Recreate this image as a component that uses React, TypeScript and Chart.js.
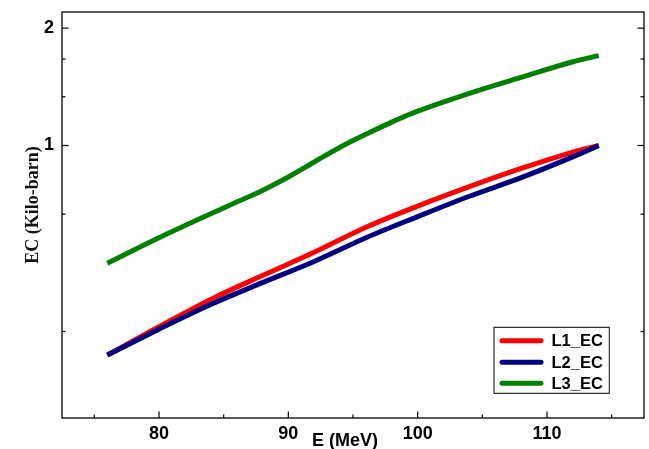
import { useEffect, useRef } from "react";
import { Chart, registerables } from "chart.js";

Chart.register(...registerables);

// ---- data ----
const E_L12 = [76, 80, 84, 88, 92, 96, 100, 104, 108, 112, 114];
const L1_EC = [0.29, 0.343, 0.403, 0.464, 0.532, 0.617, 0.699, 0.784, 0.873, 0.962, 1.0];
const L2_EC = [0.29, 0.338, 0.391, 0.445, 0.504, 0.58, 0.657, 0.741, 0.827, 0.935, 1.0];
const E_L3 = [76, 80, 84, 86, 88, 90, 92, 94, 96, 98, 100, 104, 108, 112, 114];
const L3_EC = [0.499, 0.58, 0.668, 0.716, 0.767, 0.83, 0.907, 0.99, 1.069, 1.148, 1.225, 1.361, 1.496, 1.64, 1.7];

const SERIES_LABELS = ["L1_EC", "L2_EC", "L3_EC"];
const SERIES_COLORS = ["#ff0000", "#000080", "#008000"];

const X_MAJOR = [80, 90, 100, 110];
const X_MINOR = [75, 85, 95, 105, 115];
const Y_MAJOR = [1, 2];
const Y_MINOR = [1 / 3, 2 / 3, 4 / 3, 5 / 3];

const X_TITLE = "E (MeV)";
const Y_TITLE = "EC (Kilo-barn)";

const SANS = '"Liberation Sans", Arial, sans-serif';
const SERIF = '"Liberation Serif", "Times New Roman", serif';

const framePlugin = {
  id: "frame",
  afterDraw(chart: any) {
    const { ctx, chartArea: a, scales } = chart;
    const x = scales.x;
    const y = scales.y;
    ctx.save();
    ctx.strokeStyle = "#000";
    ctx.lineWidth = 1.3;
    ctx.strokeRect(a.left, a.top, a.right - a.left, a.bottom - a.top);

    const seg = (x1: number, y1: number, x2: number, y2: number) => {
      ctx.beginPath();
      ctx.moveTo(x1, y1);
      ctx.lineTo(x2, y2);
      ctx.stroke();
    };
    ctx.lineWidth = 1.2;
    X_MAJOR.forEach((v) => {
      const p = x.getPixelForValue(v);
      seg(p, a.bottom, p, a.bottom - 6.5);
    });
    X_MINOR.forEach((v) => {
      const p = x.getPixelForValue(v);
      if (p > a.left && p < a.right) seg(p, a.bottom, p, a.bottom - 3.5);
    });
    Y_MAJOR.forEach((v) => {
      const p = y.getPixelForValue(v);
      seg(a.left, p, a.left + 6.5, p);
      seg(a.right, p, a.right - 6.5, p);
    });
    Y_MINOR.forEach((v) => {
      const p = y.getPixelForValue(v);
      seg(a.left, p, a.left + 3.5, p);
      seg(a.right, p, a.right - 3.5, p);
    });

    // axis titles
    ctx.fillStyle = "#000";
    ctx.font = `bold 18px ${SANS}`;
    ctx.textAlign = "center";
    ctx.textBaseline = "alphabetic";
    ctx.fillText(X_TITLE, 345, 446);

    ctx.save();
    ctx.translate(37.5, 205);
    ctx.rotate(-Math.PI / 2);
    ctx.font = `bold 18px ${SERIF}`;
    ctx.fillStyle = "#111";
    ctx.fillText(Y_TITLE, 0, 0);
    ctx.restore();

    // legend box
    const bx = 494, by = 327.3, bw = 115.3, bh = 66;
    ctx.fillStyle = "#fff";
    ctx.fillRect(bx, by, bw, bh);
    ctx.lineWidth = 1;
    ctx.strokeStyle = "#000";
    ctx.strokeRect(bx, by, bw, bh);
    const rows = [340.7, 362.3, 383.3];
    chart.data.datasets.forEach((ds: any, i: number) => {
      const ry = rows[i];
      ctx.strokeStyle = ds.borderColor;
      ctx.lineWidth = 5;
      ctx.lineCap = "round";
      seg(502, ry, 541, ry);
      ctx.fillStyle = "#000";
      ctx.font = `bold 16.5px ${SANS}`;
      ctx.textAlign = "left";
      ctx.textBaseline = "middle";
      ctx.fillText(ds.label, 551.5, ry + 0.8);
    });
    ctx.restore();
  },
};

export default function App() {
  const ref = useRef<HTMLCanvasElement | null>(null);

  useEffect(() => {
    if (!ref.current) return;
    const mk = (xs: number[], ys: number[]) => xs.map((x, i) => ({ x, y: ys[i] }));
    const common = {
      borderWidth: 5,
      pointRadius: 0,
      fill: false,
      tension: 0.35,
      borderCapStyle: "butt" as const,
    };
    const chart = new Chart(ref.current, {
      type: "line",
      data: {
        datasets: [
          { ...common, label: SERIES_LABELS[0], data: mk(E_L12, L1_EC), borderColor: SERIES_COLORS[0], order: 2 },
          { ...common, label: SERIES_LABELS[1], data: mk(E_L12, L2_EC), borderColor: SERIES_COLORS[1], order: 1 },
          { ...common, label: SERIES_LABELS[2], data: mk(E_L3, L3_EC), borderColor: SERIES_COLORS[2], order: 0 },
        ],
      },
      options: {
        animation: false,
        responsive: true,
        maintainAspectRatio: false,
        layout: { autoPadding: false, padding: { top: 12, right: 5, left: 0, bottom: 0 } },
        plugins: { legend: { display: false }, tooltip: { enabled: false } },
        scales: {
          x: {
            type: "linear",
            min: 72.5,
            max: 117.5,
            grid: { display: false, drawTicks: false },
            border: { display: false },
            ticks: {
              color: "#000",
              padding: 5,
              font: { family: SANS, size: 18, weight: "bold" },
            },
            afterBuildTicks: (s: any) => {
              s.ticks = X_MAJOR.map((v) => ({ value: v }));
            },
            afterFit: (s: any) => {
              s.height = 31;
              s.paddingLeft = 0;
              s.paddingRight = 0;
            },
          },
          y: {
            type: "logarithmic",
            min: 0.2,
            max: 2.2,
            grid: { display: false, drawTicks: false },
            border: { display: false },
            ticks: {
              color: "#000",
              padding: 8,
              font: { family: SANS, size: 18, weight: "bold" },
              callback: (v: any) => String(v),
            },
            afterBuildTicks: (s: any) => {
              s.ticks = Y_MAJOR.map((v) => ({ value: v }));
            },
            afterFit: (s: any) => {
              s.width = 62;
              s.paddingTop = 0;
              s.paddingBottom = 0;
            },
          },
        },
      } as any,
      plugins: [framePlugin],
    });
    return () => chart.destroy();
  }, []);

  return (
    <div style={{ position: "fixed", left: 0, top: 0, width: 649, height: 449, background: "#fff" }}>
      <canvas ref={ref} />
    </div>
  );
}
